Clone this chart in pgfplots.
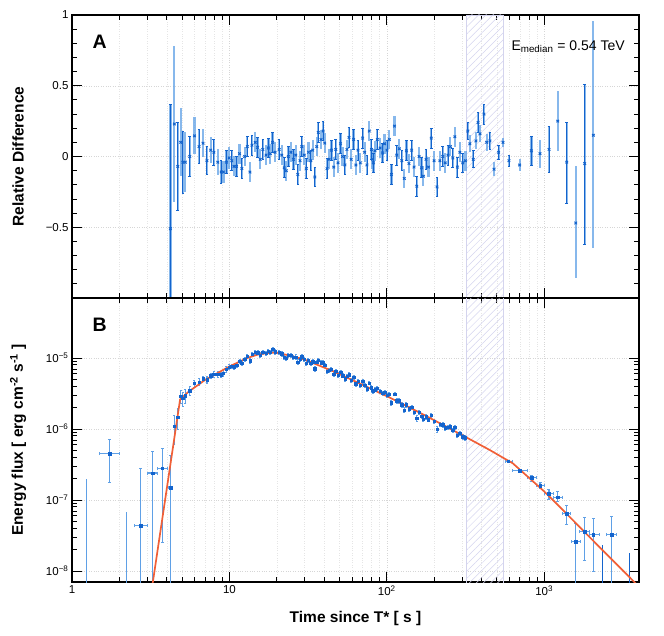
\documentclass[border=0pt]{standalone}
\usepackage{pgfplots}
\pgfplotsset{compat=1.18}
\usepackage{pgfplotstable}
\usepackage{fontspec}
\setmainfont{Liberation Sans}
\usetikzlibrary{patterns.meta}
\definecolor{dblue}{RGB}{20,100,205}
\definecolor{lblue}{RGB}{95,160,230}
\definecolor{curveor}{RGB}{240,95,55}
\definecolor{lav}{RGB}{212,212,238}

\pgfplotstableread{
x r ep em
4.22 -0.51 0.88 0.88
4.47 0.23 0.55 0.55
4.70 -0.07 0.31 0.31
4.90 0.10 0.24 0.24
5.06 -0.04 0.22 0.22
5.25 -0.04 0.21 0.21
5.60 0.00 0.14 0.14
6.00 0.146 0.13 0.13
6.42 0.07 0.12 0.12
6.80 0.094 0.10 0.10
7.20 -0.03 0.10 0.10
7.60 0.045 0.09 0.09
7.96 0.03 0.09 0.09
8.44 -0.04 0.09 0.09
8.86 -0.11 0.08 0.08
9.16 -0.11 0.08 0.08
9.58 -0.04 0.08 0.08
9.96 -0.01 0.08 0.08
10.35 -0.03 0.07 0.07
10.7 -0.07 0.07 0.07
11.1 -0.07 0.07 0.07
11.6 0.02 0.07 0.07
12.0 -0.085 0.07 0.07
12.5 0.00 0.07 0.07
13.0 0.07 0.07 0.07
13.5 -0.11 0.07 0.07
13.9 0.08 0.07 0.07
14.6 0.10 0.07 0.07
15.1 0.065 0.07 0.07
15.7 -0.02 0.07 0.07
16.3 0.05 0.07 0.07
17.1 0.01 0.07 0.07
17.7 0.06 0.07 0.07
18.2 0.02 0.07 0.07
18.8 0.10 0.07 0.07
19.5 0.03 0.07 0.07
20.7 0.05 0.07 0.07
21.5 0.01 0.07 0.07
22.3 -0.08 0.07 0.07
23.0 -0.10 0.07 0.07
23.7 0.00 0.07 0.07
24.6 0.03 0.07 0.07
25.5 -0.02 0.07 0.07
26.4 0.01 0.07 0.07
27.2 -0.127 0.07 0.07
28.1 -0.03 0.07 0.07
28.8 0.07 0.07 0.07
29.9 0.01 0.07 0.07
30.8 -0.085 0.07 0.07
31.8 0.03 0.07 0.07
32.9 -0.03 0.07 0.07
33.8 0.045 0.07 0.07
34.9 -0.145 0.07 0.07
35.9 0.07 0.07 0.07
36.7 0.17 0.07 0.07
38.2 0.12 0.07 0.07
39.4 0.18 0.07 0.07
40.3 0.095 0.07 0.07
41.7 -0.085 0.07 0.07
43.0 -0.02 0.07 0.07
44.5 0.045 0.07 0.07
46.0 -0.075 0.07 0.07
47.4 0.05 0.07 0.07
49.0 -0.045 0.07 0.07
50.8 0.09 0.07 0.07
52.3 0.00 0.07 0.07
54.2 -0.06 0.07 0.07
55.8 0.05 0.07 0.07
57.5 0.135 0.07 0.07
59.4 -0.02 0.07 0.07
61.5 0.12 0.07 0.07
63.6 -0.06 0.07 0.07
65.6 0.045 0.07 0.07
67.9 -0.045 0.07 0.07
70.2 0.13 0.07 0.07
72.3 0.03 0.07 0.07
74.8 -0.06 0.07 0.07
77.4 0.18 0.07 0.07
79.8 0.05 0.07 0.07
81.0 -0.02 0.07 0.07
82.2 -0.045 0.07 0.07
84.2 0.04 0.07 0.07
87.0 0.12 0.07 0.07
90.6 0.06 0.07 0.07
93.9 0.025 0.07 0.07
96.8 0.09 0.07 0.07
100.3 0.045 0.07 0.07
103.8 0.12 0.07 0.07
107.0 -0.127 0.07 0.07
111.9 0.215 0.07 0.07
115.6 0.01 0.07 0.07
120.1 0.055 0.07 0.07
124.5 -0.03 0.07 0.07
129.1 -0.155 0.07 0.07
133.2 0.04 0.07 0.07
138.2 -0.05 0.07 0.07
143.8 0.045 0.07 0.07
149.0 -0.075 0.07 0.07
155.0 -0.21 0.07 0.07
160.3 0.00 0.07 0.07
166.3 -0.08 0.07 0.07
170.7 -0.14 0.07 0.07
177.6 -0.02 0.07 0.07
183.9 -0.075 0.07 0.07
191.6 0.13 0.07 0.07
199.6 -0.03 0.07 0.07
208.7 -0.215 0.07 0.07
217.4 -0.03 0.07 0.07
226.7 0.00 0.07 0.07
234.9 -0.045 0.07 0.07
244.8 0.01 0.07 0.07
253.4 0.07 0.07 0.07
262.5 -0.01 0.07 0.07
270.6 0.14 0.07 0.07
280.7 -0.075 0.07 0.07
290.9 0.03 0.07 0.07
303.4 -0.045 0.07 0.07
315.7 -0.03 0.07 0.07
327 0.18 0.06 0.06
337 0.09 0.06 0.06
354 -0.02 0.06 0.06
368 0.11 0.06 0.06
380 0.24 0.07 0.07
391 0.16 0.06 0.06
414 0.30 0.07 0.07
431 0.10 0.06 0.06
452 0.11 0.06 0.06
480 -0.09 0.05 0.05
513 0.03 0.05 0.05
547 0.10 0.03 0.03
597 -0.03 0.04 0.04
698 -0.06 0.04 0.04
829 0.04 0.10 0.10
940 0.02 0.10 0.10
1073 0.05 0.16 0.16
1218 0.25 0.21 0.21
1390 -0.04 0.28 0.29
1585 -0.47 0.40 0.39
1807 -0.05 0.56 0.57
2052 0.15 0.81 0.80
}\reldiff

\pgfplotstableread{
x f e
4.47 1.09e-6 4.9e-7
4.70 1.47e-6 4.9e-7
4.90 2.9e-6 6.4e-7
5.06 2.71e-6 6.2e-7
5.25 2.93e-6 6.4e-7
5.60 3.45e-6 4.8e-7
6.00 4.40e-6 5.0e-7
6.42 4.58e-6 5.1e-7
6.80 5.12e-6 4.7e-7
7.20 4.92e-6 5.1e-7
7.60 5.66e-6 4.9e-7
7.96 5.92e-6 5.2e-7
8.44 5.92e-6 5.6e-7
8.86 5.83e-6 5.2e-7
9.16 6.07e-6 5.5e-7
9.58 6.92e-6 5.8e-7
9.96 7.49e-6 6.1e-7
10.35 7.64e-6 5.5e-7
10.7 7.59e-6 5.7e-7
11.1 7.89e-6 5.9e-7
11.6 9.06e-6 6.2e-7
12.0 8.42e-6 6.4e-7
12.5 9.60e-6 6.7e-7
13.0 1.07e-5 7.0e-7
13.5 9.15e-6 7.2e-7
13.9 1.134e-5 7.4e-7
14.6 1.197e-5 7.6e-7
15.1 1.184e-5 7.8e-7
15.7 1.104e-5 7.9e-7
16.3 1.198e-5 8.0e-7
17.1 1.17e-5 8.1e-7
17.7 1.242e-5 8.2e-7
18.2 1.204e-5 8.3e-7
18.8 1.318e-5 8.4e-7
19.5 1.222e-5 8.3e-7
20.7 1.212e-5 8.1e-7
21.5 1.146e-5 7.9e-7
22.3 1.027e-5 7.8e-7
23.0 9.9e-6 7.7e-7
23.7 1.086e-5 7.6e-7
24.6 1.10e-5 7.5e-7
25.5 1.026e-5 7.3e-7
26.4 1.036e-5 7.2e-7
27.2 8.8e-6 7.1e-7
28.1 9.6e-6 6.9e-7
28.8 1.042e-5 6.8e-7
29.9 9.62e-6 6.7e-7
30.8 8.49e-6 6.5e-7
31.8 9.29e-6 6.3e-7
32.9 8.48e-6 6.1e-7
33.8 8.92e-6 6.0e-7
34.9 7.10e-6 5.8e-7
35.9 8.65e-6 5.7e-7
36.7 9.28e-6 5.6e-7
38.2 8.57e-6 5.4e-7
39.4 8.78e-6 5.2e-7
40.3 7.98e-6 5.1e-7
41.7 6.47e-6 4.9e-7
43.0 6.74e-6 4.8e-7
44.5 6.97e-6 4.7e-7
46.0 5.97e-6 4.5e-7
47.4 6.57e-6 4.4e-7
49.0 5.78e-6 4.2e-7
50.8 6.36e-6 4.1e-7
52.3 5.66e-6 4.0e-7
54.2 5.13e-6 3.8e-7
55.8 5.56e-6 3.7e-7
57.5 5.83e-6 3.6e-7
59.4 4.87e-6 3.5e-7
61.5 5.38e-6 3.4e-7
63.6 4.36e-6 3.2e-7
65.6 4.70e-6 3.2e-7
67.9 4.14e-6 3.0e-7
70.2 4.73e-6 2.9e-7
72.3 4.18e-6 2.8e-7
74.8 3.69e-6 2.7e-7
77.4 4.46e-6 2.6e-7
79.8 3.84e-6 2.6e-7
81.0 3.54e-6 2.5e-7
82.2 3.39e-6 2.5e-7
84.2 3.59e-6 2.4e-7
87.0 3.75e-6 2.3e-7
90.6 3.40e-6 2.2e-7
93.9 3.18e-6 2.2e-7
96.8 3.27e-6 2.1e-7
100.3 3.02e-6 2.0e-7
103.8 3.11e-6 1.9e-7
107.0 2.35e-6 1.9e-7
111.9 3.11e-6 1.8e-7
115.6 2.49e-6 1.7e-7
120.1 2.50e-6 1.7e-7
124.5 2.20e-6 1.6e-7
129.1 1.84e-6 1.5e-7
133.2 2.19e-6 1.5e-7
138.2 1.93e-6 1.4e-7
143.8 2.03e-6 1.4e-7
149.0 1.72e-6 1.3e-7
155.0 1.41e-6 1.2e-7
160.3 1.72e-6 1.2e-7
166.3 1.51e-6 1.1e-7
170.7 1.37e-6 1.1e-7
177.6 1.49e-6 1.1e-7
183.9 1.36e-6 1.0e-7
191.6 1.58e-6 1.0e-7
199.6 1.29e-6 0.9e-7
208.7 0.99e-6 0.9e-7
217.4 1.17e-6 0.8e-7
226.7 1.15e-6 0.8e-7
234.9 1.05e-6 0.8e-7
244.8 1.06e-6 0.7e-7
253.4 1.08e-6 0.7e-7
262.5 0.96e-6 0.7e-7
270.6 1.06e-6 0.7e-7
280.7 0.82e-6 0.6e-7
290.9 0.88e-6 0.6e-7
303.4 0.78e-6 0.6e-7
315.7 0.75e-6 0.5e-7
}\fluxdense

\pgfplotstableread{
x f xm xp yp ym
1.73 4.5e-7 0.24 0.27 2.7e-7 2.73e-7
2.73 4.36e-8 0.24 0.27 2.36e-7 4.35e-8
3.26 2.4e-7 0.25 0.25 2.4e-7 2.39e-7
3.75 2.8e-7 0.27 0.28 2.5e-7 2.55e-7
4.22 1.5e-7 0.10 0.10 2.7e-7 1.49e-7
589 3.5e-7 20 38 1.5e-8 1.5e-8
698 2.61e-7 71 83 1.0e-8 1.0e-8
832 2.05e-7 51 59 2.0e-8 2.0e-8
940 1.6e-7 49 60 1.7e-8 1.7e-8
1072 1.22e-7 75 81 2.0e-8 2.0e-8
1217 1.1e-7 64 86 2.2e-8 1.5e-8
1389 6.4e-8 86 83 1.9e-8 1.9e-8
1585 2.6e-8 91 119 2.1e-8 2.59e-8
1807 3.6e-8 128 137 2.0e-8 2.2e-8
2052 3.25e-8 125 178 2.25e-8 2.25e-8
2684 3.25e-8 201 189 2.65e-8 3.24e-8
}\fluxsparse

\pgfplotstableread{
x f
1.23 1e-10
1.23 2.0e-7
}\barA
\pgfplotstableread{
x f
2.23 1e-10
2.23 6.7e-8
}\barB
\pgfplotstableread{
x f
2340 1e-10
2340 2.35e-8
}\barC
\pgfplotstableread{
x f
3460 1e-10
3460 1.8e-8
}\barD

\pgfplotstableread{
x f
3.0 2.0e-9
4.86 2.6e-6
5.5 3.35e-6
6 3.84e-6
7 4.9e-6
8 5.77e-6
9 6.67e-6
10 7.6e-6
11 8.4e-6
12 9.2e-6
13 1.0e-5
14 1.056e-5
15 1.11e-5
16 1.14e-5
17 1.163e-5
18 1.18e-5
19 1.19e-5
20 1.185e-5
22 1.135e-5
25 1.06e-5
28 9.9e-6
30 9.5e-6
35 8.27e-6
40 7.33e-6
45 6.6e-6
50 5.93e-6
60 4.92e-6
70 4.2e-6
80 3.65e-6
90 3.23e-6
100 2.9e-6
120 2.37e-6
150 1.85e-6
200 1.33e-6
250 1.02e-6
321 7.6e-7
450 5.07e-7
552 3.9e-7
630 3.3e-7
700 2.68e-7
1000 1.32e-7
1368 6.6e-8
2000 2.81e-8
3000 1.14e-8
4000 6.0e-9
}\model

\begin{document}
\begin{tikzpicture}
\path[use as bounding box] (0pt,0pt) rectangle (664pt,635pt);

% ---------------- Top panel ----------------
\begin{axis}[
  scale only axis, width=567pt, height=283pt,
  at={(72pt,337pt)}, anchor=south west,
  xmode=log, xmin=1, xmax=4000,
  ymin=-1, ymax=1,
  axis line style={line width=1.5pt, black},
  major tick length=10pt, minor tick length=5pt,
  tick style={black, line width=0.8pt},
  tick align=inside,
  xmajorgrids, xminorgrids, ymajorgrids,
  major grid style={dotted, black!16, line width=0.45pt},
  minor grid style={dotted, black!10, line width=0.45pt},
  ticklabel style={font=\fontsize{11.5}{13}\selectfont},
  ytick={-1,-0.5,0,0.5,1},
  yticklabels={,−0.5,0,0.5,1},
  minor y tick num=4,
  xtick={1,10,100,1000},
  xticklabels={},
  ylabel={Relative Difference},
  ylabel style={font=\fontsize{15.5}{17}\bfseries\selectfont, at={(axis description cs:-0.095,0.5)}, anchor=center},
]
\addplot[draw=lav, line width=0.8pt, pattern={Lines[angle=45,distance=5pt,line width=0.5pt]}, pattern color=lav] coordinates {(320,-1) (552,-1) (552,1) (320,1) (320,-1)};
% wide light bars
\addplot[draw=none, mark=none,
  error bars/.cd, y dir=both, y explicit,
  error bar style={color=lblue, line width=2.2pt, opacity=0.75},
  error mark=none]
  table[x=x, y=r, y error plus=ep, y error minus=em] {\reldiff};
% thin dark bars with caps
\addplot[draw=none, mark=none, each nth point=2,
  error bars/.cd, y dir=both, y explicit,
  error bar style={color=dblue, line width=0.9pt},
  error mark options={rotate=90, mark size=1.3pt, color=dblue, line width=0.9pt}]
  table[x=x, y=r, y error plus=ep, y error minus=em] {\reldiff};
\addplot[only marks, mark=x, mark size=1.8pt, color=dblue, mark options={line width=1pt}]
  table[x=x, y=r] {\reldiff};
\node[font=\fontsize{19.5}{21}\bfseries\selectfont] at (axis description cs:0.049,0.905) {A};
\node[font=\fontsize{14}{16}\selectfont, anchor=base east] at (axis description cs:0.981,0.874) {E\textsubscript{median} = 0.54 TeV};
\end{axis}

% ---------------- Bottom panel ----------------
\begin{axis}[
  scale only axis, width=567pt, height=284pt,
  at={(72pt,53pt)}, anchor=south west,
  xmode=log, xmin=1, xmax=4000,
  ymode=log, ymin=7e-9, ymax=7e-5,
  axis line style={line width=1.5pt, black},
  major tick length=10pt, minor tick length=5pt,
  tick style={black, line width=0.8pt},
  tick align=inside,
  xmajorgrids, xminorgrids, ymajorgrids,
  major grid style={dotted, black!16, line width=0.45pt},
  minor grid style={dotted, black!10, line width=0.45pt},
  ticklabel style={font=\fontsize{11.5}{13}\selectfont},
  ytick={1e-8,1e-7,1e-6,1e-5},
  yticklabels={10\textsuperscript{−8},10\textsuperscript{−7},10\textsuperscript{−6},10\textsuperscript{−5}},
  xtick={1,10,100,1000},
  xticklabels={1,10,10\textsuperscript{2},10\textsuperscript{3}},
  ylabel={Energy flux [ erg cm\textsuperscript{-2} s\textsuperscript{-1} ]},
  ylabel style={font=\fontsize{15.5}{17}\bfseries\selectfont, at={(axis description cs:-0.095,0.5)}, anchor=center},
  xlabel={Time since T* [ s ]},
  xlabel style={font=\fontsize{15.5}{17}\bfseries\selectfont, at={(axis description cs:0.5,0)}, anchor=center, yshift=-36pt},
]
\addplot[draw=lav, line width=0.8pt, pattern={Lines[angle=45,distance=5pt,line width=0.5pt]}, pattern color=lav] coordinates {(320,1e-9) (552,1e-9) (552,1e-4) (320,1e-4) (320,1e-9)};
\addplot[lblue, line width=1.1pt] table[x=x,y=f] {\barA};
\addplot[lblue, line width=1.1pt] table[x=x,y=f] {\barB};
\addplot[dblue, line width=1.1pt] table[x=x,y=f] {\barC};
\addplot[dblue, line width=1.1pt] table[x=x,y=f] {\barD};
\addplot[only marks, mark=square*, mark size=1.3pt, color=dblue,
  error bars/.cd, y dir=both, y explicit, x dir=both, x explicit,
  error bar style={color=lblue, line width=1.1pt},
  error mark options={rotate=90, mark size=1.5pt, color=lblue, line width=1pt}]
  table[x=x, y=f, x error plus=xp, x error minus=xm, y error plus=yp, y error minus=ym] {\fluxsparse};
\addplot[only marks, mark=square*, mark size=1.2pt, color=dblue,
  error bars/.cd, y dir=both, y explicit,
  error bar style={color=lblue, line width=1.2pt},
  error mark options={rotate=90, mark size=1pt, color=lblue, line width=0.8pt}]
  table[x=x, y=f, y error=e] {\fluxdense};
\addplot[curveor, line width=1.7pt] table[x=x, y=f] {\model};
\node[font=\fontsize{19.5}{21}\bfseries\selectfont] at (axis description cs:0.049,0.905) {B};
\end{axis}
\end{tikzpicture}
\end{document}
